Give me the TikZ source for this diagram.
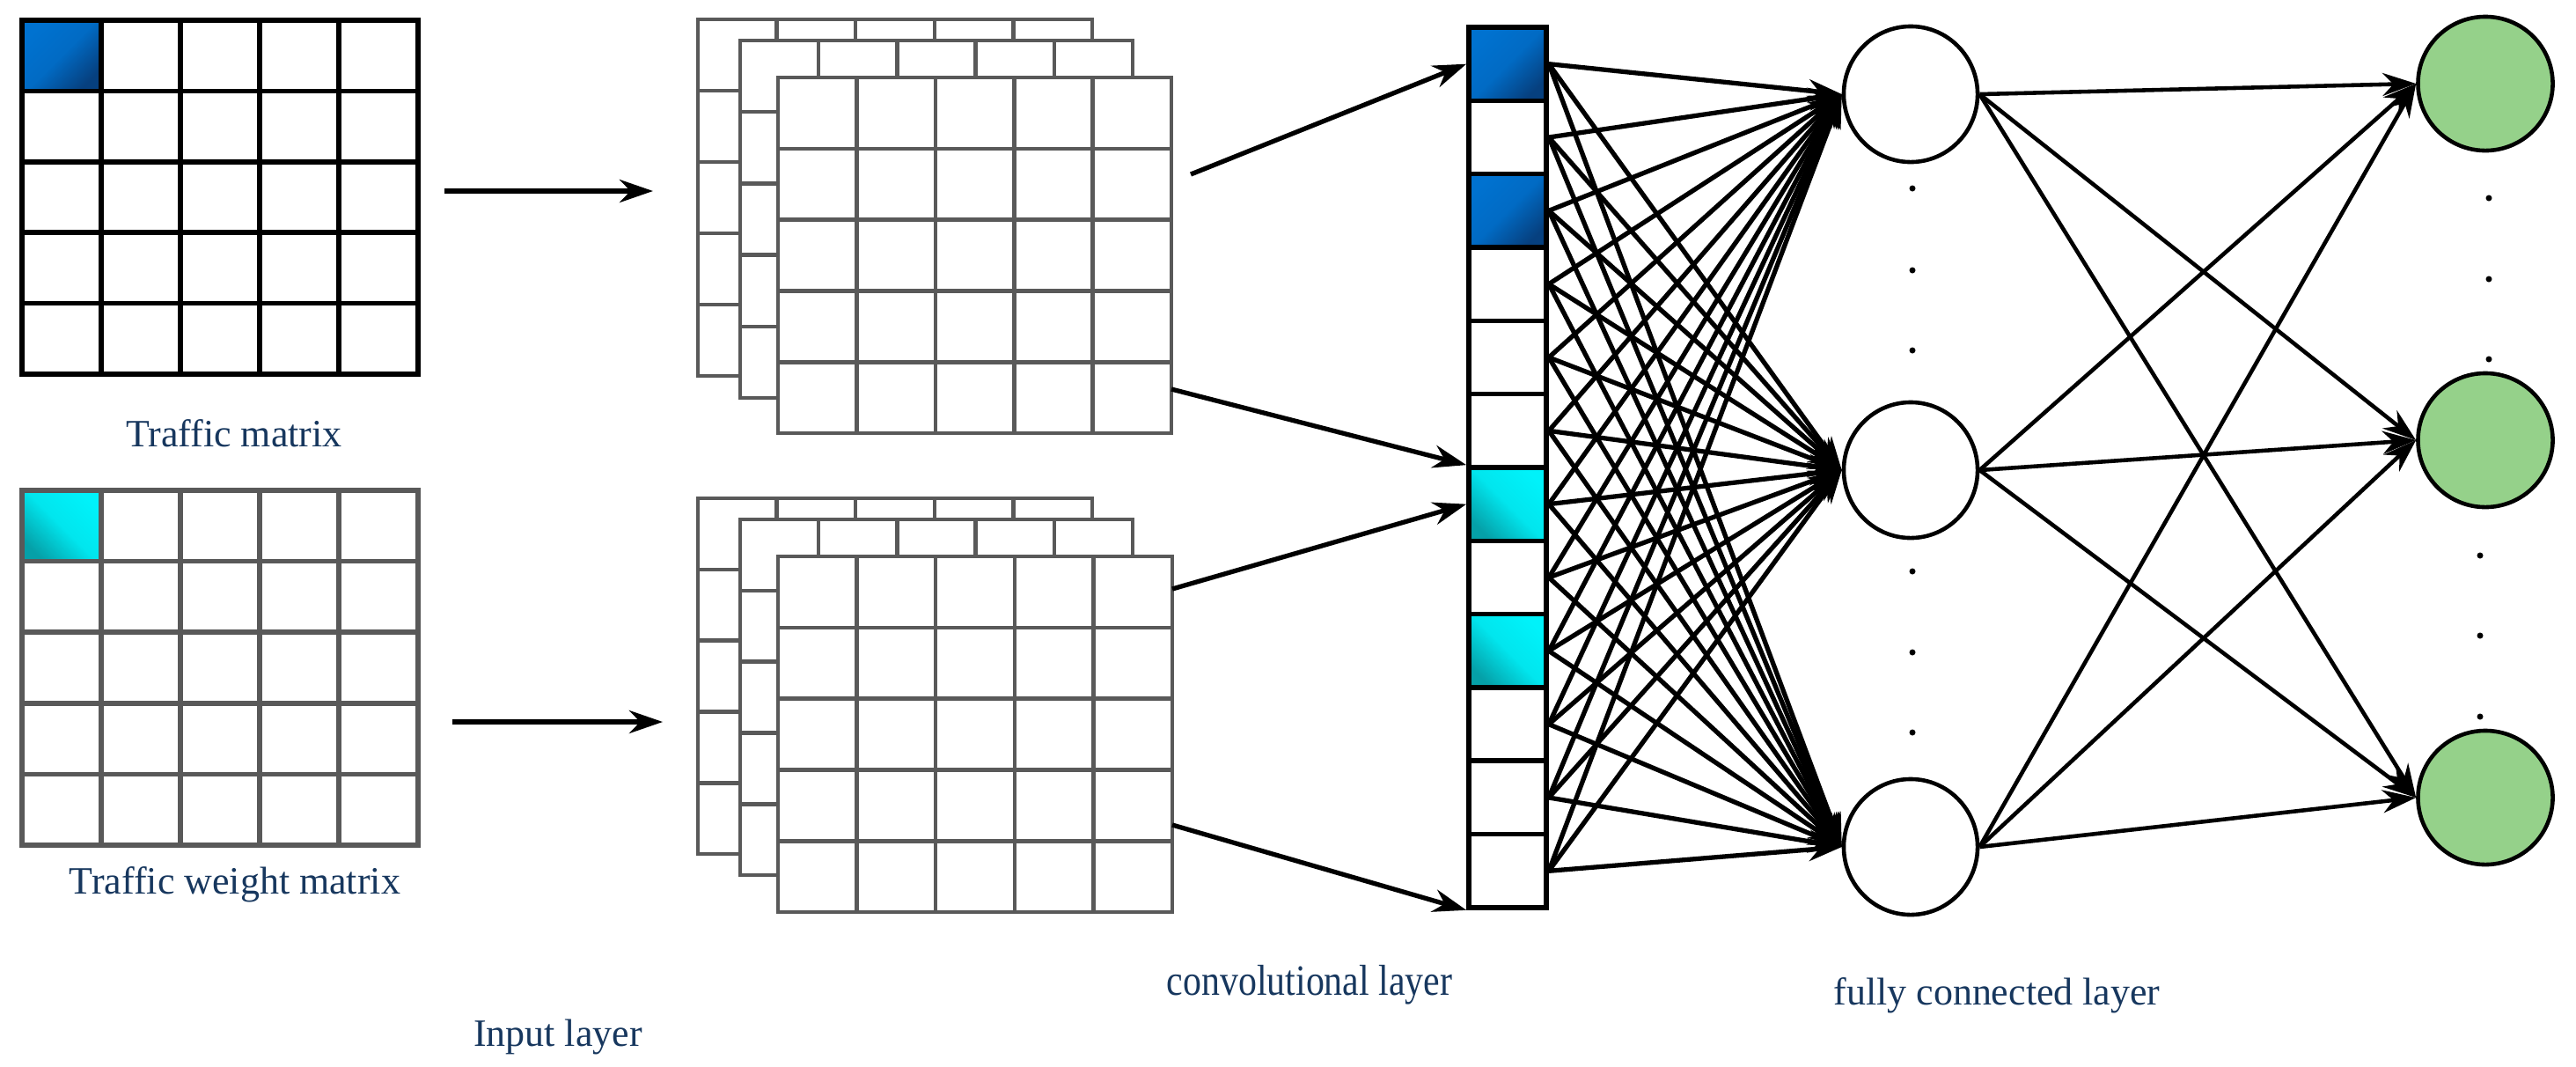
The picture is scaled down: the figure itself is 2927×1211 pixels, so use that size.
\documentclass[tikz,border=0pt]{standalone}
\usepackage{fontspec}
\setmainfont{Liberation Serif}
\usetikzlibrary{arrows.meta,shapes.geometric}
\definecolor{navy}{HTML}{17375E}
\definecolor{gridgray}{HTML}{595959}
\definecolor{fcgreen}{HTML}{95D18A}
\definecolor{bluelt}{HTML}{0072D0}
\definecolor{bluedk}{HTML}{06407F}
\definecolor{cyanlt}{HTML}{00F2FA}
\definecolor{cyandk}{HTML}{05A0A8}
\newcommand\mkgrid[5]{%
  \filldraw[fill=white,draw=#5,line width=1.3pt] (#1,#2) rectangle ++(#3,#4);
  \foreach \k in {1,2,3,4}{
    \draw[#5,line width=1.3pt] ({#1+#3*\k/5},#2) -- ++(0,#4);
    \draw[#5,line width=1.3pt] (#1,{#2+#4*\k/5}) -- ++(#3,0);
  }}
\tikzset{
  lbl/.style={text=navy,font=\fontsize{12.5}{14}\selectfont,inner sep=0},
  conn/.style={line width=1.5pt,-{Stealth[length=0.38cm,width=0.26cm]}},
  cell/.style={draw,line width=1.6pt,minimum width=0.88cm,minimum height=0.833cm,inner sep=0,fill=white},
  bluec/.style={top color=bluelt,bottom color=bluedk,middle color=bluelt!85!bluedk,shading angle=45},
  cyanc/.style={top color=cyanlt,bottom color=cyandk,middle color=cyanlt!85!cyandk,shading angle=-45},
  fc/.style={ellipse,draw,line width=1.3pt,minimum width=1.52cm,minimum height=1.54cm,inner sep=0,fill=white},
  outn/.style={ellipse,draw,line width=1.3pt,minimum width=1.53cm,minimum height=1.52cm,inner sep=0,fill=fcgreen},
  dot/.style={circle,fill=black,inner sep=0,minimum size=0.07cm}
}
\begin{document}
\begin{tikzpicture}[x=0.01cm,y=-0.01cm]
\useasboundingbox (0,0) rectangle (2927,1211);
% input matrices
\fill[bluec] (25,23) rectangle (115,103);
\draw[line width=1.6pt] (25,23) rectangle (475,425);
\foreach \k in {1,2,3,4}{
  \draw[line width=1.6pt] ({25+90*\k},23) -- ++(0,402);
  \draw[line width=1.6pt] (25,{23+80.4*\k}) -- ++(450,0);}
\fill[cyanc] (25,557) rectangle (115,638);
\draw[gridgray,line width=1.6pt] (25,557) rectangle (475,960);
\foreach \k in {1,2,3,4}{
  \draw[gridgray,line width=1.6pt] ({25+90*\k},557) -- ++(0,403);
  \draw[gridgray,line width=1.6pt] (25,{557+80.6*\k}) -- ++(450,0);}
\node[lbl] (t1) at (266,492) {Traffic matrix};
\node[lbl] (t2) at (267,1005) {Traffic weight matrix};
\node[lbl] (t3) at (634,1178) {Input layer};
\node[lbl,font=\fontsize{14}{16}\selectfont] (t4) at (1488,1119) {\scalebox{0.85}[1]{convolutional layer}};
\node[lbl] (t5) at (2269,1131) {fully connected layer};
% input arrows
\coordinate (a1s) at (505,217); \coordinate (a1e) at (742,217);
\coordinate (a2s) at (514,820); \coordinate (a2e) at (753,820);
\draw[conn] (a1s) -- (a1e);
\draw[conn] (a2s) -- (a2e);
% stacks
\mkgrid{793}{22}{448}{405}{gridgray}
\mkgrid{841}{46}{446}{406}{gridgray}
\mkgrid{884}{88}{447}{404}{gridgray}
\mkgrid{793}{566}{448}{404}{gridgray}
\mkgrid{841}{590}{446}{404}{gridgray}
\mkgrid{884}{632}{448}{404}{gridgray}
% conv column
\foreach \i in {1,...,12}{
  \node[cell] (c\i) at (1713,{31+83.33*(\i-0.5)}) {};}
\node[cell,bluec] at (c1) {};
\node[cell,bluec] at (c3) {};
\node[cell,cyanc] at (c7) {};
\node[cell,cyanc] at (c9) {};
% stack to column arrows
\coordinate (s1a) at (1353,198); \coordinate (s1b) at (1331,442);
\coordinate (s2a) at (1332,669); \coordinate (s2b) at (1332,937);
\draw[conn] (s1a) -- (c1.west);
\draw[conn] (s1b) -- (c7.north west);
\draw[conn] (s2a) -- (c7.west);
\draw[conn] (s2b) -- (c12.south west);
% FC nodes
\node[fc] (f1) at (2171,107) {};
\node[fc] (f2) at (2171,534) {};
\node[fc] (f3) at (2171,962) {};
\node[outn] (o1) at (2824,95) {};
\node[outn] (o2) at (2824,500) {};
\node[outn] (o3) at (2824,906) {};
\foreach \i in {1,...,12}{
  \foreach \j in {1,2,3}{
    \draw[conn] (c\i.east) -- (f\j.west);}}
\foreach \i in {1,2,3}{
  \foreach \j in {1,2,3}{
    \draw[conn,line width=1.3pt] (f\i.east) -- (o\j.west);}}
% dots
\foreach \y [count=\n] in {214,307,398,649,741,832}{\node[dot] (fd\n) at (2173,\y) {};}
\foreach \y [count=\n] in {225,317,408}{\node[dot] (od\n) at (2828,\y) {};}
\foreach \y [count=\n] in {631,722,814}{\node[dot] (oe\n) at (2818,\y) {};}
\end{tikzpicture}
\end{document}
